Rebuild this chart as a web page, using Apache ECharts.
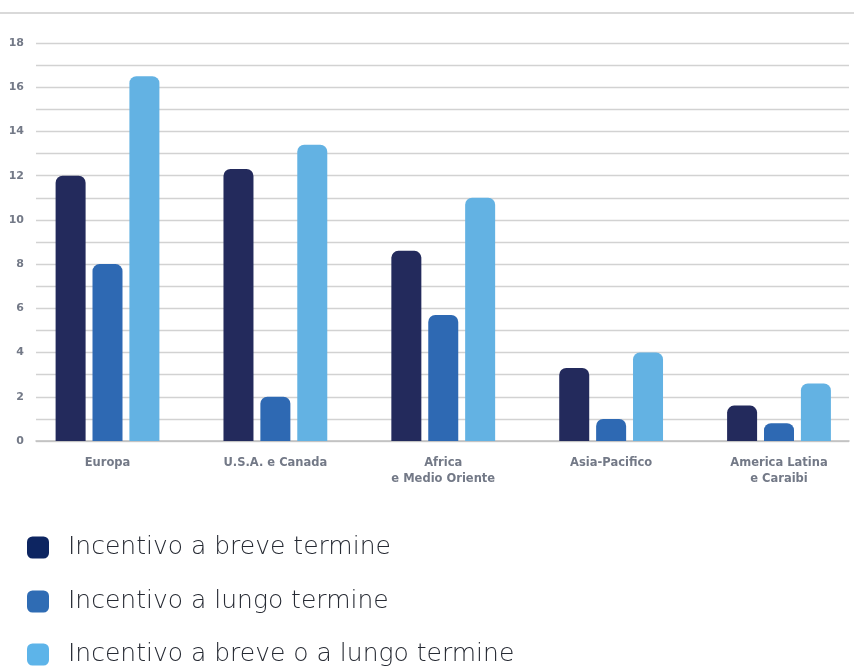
<!DOCTYPE html>
<html>
<head>
<meta charset="utf-8">
<script src="https://cdn.jsdelivr.net/npm/echarts@6/dist/echarts.min.js"></script>
<style>
  html, body { margin: 0; padding: 0; background: #ffffff; }
  #chart { width: 854px; height: 668px; }
</style>
</head>
<body>
<div id="chart"></div>
<script>
// Regions on the category axis
const categories = ['Europa', 'U.S.A. e Canada', 'Africa\ne Medio Oriente', 'Asia-Pacifico', 'America Latina\ne Caraibi'];

// Series names and values
const seriesNames = ['Incentivo a breve termine', 'Incentivo a lungo termine', 'Incentivo a breve o a lungo termine'];
const shortTerm = [12, 12.3, 8.6, 3.3, 1.6];
const longTerm = [8, 2, 5.7, 1, 0.8];
const eitherTerm = [16.5, 13.4, 11, 4, 2.6];

// Value axis range and labelled ticks
const yMin = 0;
const yMax = 18;
const yTickLabels = [0, 2, 4, 6, 8, 10, 12, 14, 16, 18];

const colors = ['#232a5c', '#2e69b3', '#63b2e3'];
const legendColors = ['#0d2561', '#2f6cb4', '#5db4e9'];
const labelFont = 'DejaVu Sans';

const chart = echarts.init(document.getElementById('chart'), null, { renderer: 'canvas' });

const barSeries = [shortTerm, longTerm, eitherTerm].map((vals, i) => ({
  name: seriesNames[i],
  type: 'bar',
  xAxisIndex: 1,
  yAxisIndex: 1,
  data: vals,
  barWidth: 30,
  barGap: '23%',
  itemStyle: { color: colors[i], borderRadius: [7, 7, 0, 0] }
}));

// One legend block per series, stacked down the bottom of the page
const legendTops = [534, 588, 641];
const legends = seriesNames.map((name, i) => ({
  orient: 'vertical',
  left: 27,
  top: legendTops[i],
  padding: 0,
  itemWidth: 22,
  itemHeight: 22,
  icon: 'roundRect',
  data: [{ name: name, itemStyle: { color: legendColors[i] } }],
  textStyle: {
    fontFamily: 'DejaVu Sans', fontWeight: 300, fontSize: 25, lineHeight: 22,
    color: '#262a33', padding: [5, 0, 0, 14]
  }
}));

chart.setOption({
  animation: false,
  backgroundColor: '#ffffff',
  graphic: [{
    type: 'line',
    shape: { x1: 0, y1: 13, x2: 854, y2: 13 },
    style: { stroke: '#cccccc', lineWidth: 1.5 }
  }],
  grid: [
    // grid with the horizontal rules and tick labels
    { left: 36, right: 5, top: 43, bottom: 227 },
    // grid that carries the bars; category centres sit on the grid edges
    { left: 107.5, right: 75, top: 43, bottom: 227 }
  ],
  xAxis: [
    {
      gridIndex: 0, type: 'value', min: 0, max: 1,
      axisLine: { show: true, onZero: false, lineStyle: { color: '#bfbfbf', width: 1.5 } },
      axisTick: { show: false }, axisLabel: { show: false }, splitLine: { show: false }
    },
    {
      gridIndex: 1, type: 'category', data: categories, boundaryGap: false,
      axisLine: { show: false }, axisTick: { show: false }, splitLine: { show: false },
      axisLabel: {
        margin: 14, color: '#737987', fontFamily: labelFont, fontWeight: 700,
        fontSize: 11.5, lineHeight: 16, interval: 0, align: 'center'
      }
    }
  ],
  yAxis: [
    {
      gridIndex: 0, type: 'value', min: yMin, max: yMax, interval: 1,
      axisLine: { show: false }, axisTick: { show: false },
      axisLabel: {
        margin: 12, color: '#737987', fontFamily: labelFont, fontWeight: 700, fontSize: 11,
        formatter: v => (yTickLabels.indexOf(v) >= 0 ? String(v) : '')
      },
      splitLine: { lineStyle: { color: '#d2d2d2', width: 1.3 } }
    },
    {
      gridIndex: 1, type: 'value', min: yMin, max: yMax,
      show: false, splitLine: { show: false }
    }
  ],
  legend: legends,
  series: barSeries
});
</script>
</body>
</html>
